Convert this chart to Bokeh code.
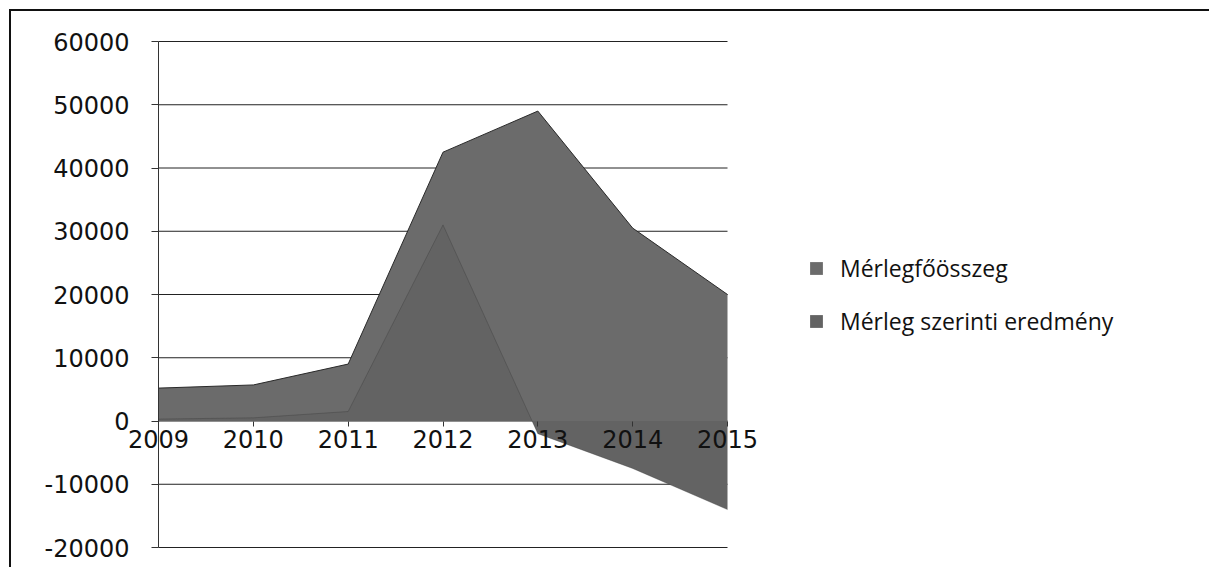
from bokeh.plotting import figure
from bokeh.models import Range1d, FixedTicker, PrintfTickFormatter, Legend, LegendItem
from bokeh.embed import file_html
from bokeh.resources import INLINE

years = [2009, 2010, 2011, 2012, 2013, 2014, 2015]
merlegfoosszeg = [5200, 5700, 9000, 42500, 49000, 30500, 20000]
eredmeny = [300, 500, 1500, 31000, -2000, -7500, -14000]
series_names = ["Mérlegfőösszeg", "Mérleg szerinti eredmény"]
y_ticks = [-20000, -10000, 0, 10000, 20000, 30000, 40000, 50000, 60000]

# pixel geometry of the plot area (page coordinates)
W, H = 1200, 558
content_left, content_top = 11, 11
px_left, px_right = 158, 727      # x of first / last year
px_top, px_bottom = 41, 547       # y of max / min tick
xs = (px_right - px_left) / (years[-1] - years[0])
ys = (px_bottom - px_top) / (y_ticks[-1] - y_ticks[0])
x0 = years[0] - (px_left - content_left) / xs
x1 = years[0] + (content_left + W - px_left) / xs
yt = y_ticks[-1] + (px_top - content_top) / ys
yb = y_ticks[0] - (content_top + H - px_bottom) / ys

p = figure(width=W, height=H, output_backend="svg", toolbar_location=None,
           x_range=Range1d(x0, x1), y_range=Range1d(yb, yt),
           min_border_left=0, min_border_right=0, min_border_top=0, min_border_bottom=0)
p.styles = {"border-left": "2px solid #111", "border-top": "2px solid #111",
            "margin-left": "9px", "margin-top": "9px"}
p.outline_line_color = None
p.background_fill_color = "white"
p.xgrid.visible = False
p.ygrid.visible = False

# horizontal gridlines spanning the category range
p.segment(x0=[years[0]] * len(y_ticks), x1=[years[-1]] * len(y_ticks),
          y0=y_ticks, y1=y_ticks, line_color="#222222", line_width=1)

r1 = p.varea(x=years, y1=0, y2=merlegfoosszeg, fill_color="#6b6b6b")
r2 = p.varea(x=years, y1=0, y2=eredmeny, fill_color="#636363")
p.line(x=years, y=merlegfoosszeg, line_color="#2a2a2a", line_width=1)
p.line(x=years, y=eredmeny, line_color="#3a3a3a", line_width=0.7, line_alpha=0.5)

yax = p.yaxis[0]
yax.fixed_location = years[0]
yax.bounds = (y_ticks[0], y_ticks[-1])
yax.ticker = FixedTicker(ticks=y_ticks)
yax.formatter = PrintfTickFormatter(format="%d")
yax.major_label_text_font = "DejaVu Sans"
yax.major_label_text_font_size = "24px"
yax.major_label_text_color = "#111111"
yax.axis_line_color = "#333333"
yax.major_tick_out = 7
yax.major_tick_in = 0
yax.major_tick_line_color = "#333333"
yax.minor_tick_line_color = None
yax.major_label_standoff = 22

xax = p.xaxis[0]
xax.fixed_location = 0
xax.bounds = (years[0], years[-1])
xax.ticker = FixedTicker(ticks=years)
xax.major_label_text_font = "DejaVu Sans"
xax.major_label_text_font_size = "24px"
xax.major_label_text_color = "#111111"
xax.axis_line_color = None
xax.major_tick_out = 5
xax.major_tick_in = 0
xax.major_tick_line_color = "#333333"
xax.minor_tick_line_color = None
xax.major_label_standoff = 4

legend = Legend(items=[LegendItem(label=series_names[0], renderers=[r1]),
                       LegendItem(label=series_names[1], renderers=[r2])],
                location=(797, 232), border_line_color=None, background_fill_alpha=0,
                label_text_font="Open Sans", label_text_font_size="23px",
                label_text_color="#111111",
                glyph_width=16, glyph_height=16, label_height=22, spacing=21,
                label_standoff=16, padding=10, margin=0)
p.add_layout(legend, "center")

open("out.html", "w").write(file_html(p, INLINE))
